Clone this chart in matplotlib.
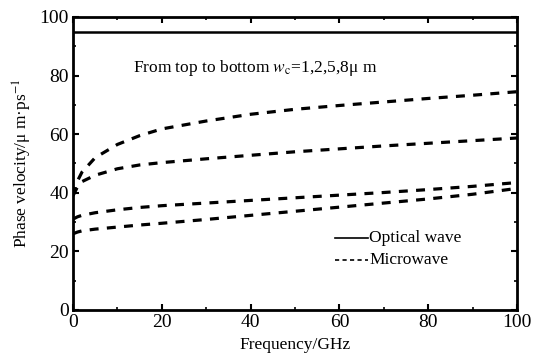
import matplotlib
matplotlib.use("Agg")
import matplotlib.pyplot as plt
import numpy as np

plt.rcParams['font.family'] = ['Liberation Serif', 'DejaVu Serif']
plt.rcParams['mathtext.fontset'] = 'stix'

freq = [0, 1, 2, 5, 10, 15, 20, 30, 40, 50, 60, 70, 80, 90, 100]
optical = [95] * len(freq)
mw_1 = [39, 44, 47, 52, 56.5, 59.5, 61.8, 64.5, 66.8, 68.5, 69.8, 71, 72.2, 73.3, 74.5]
mw_2 = [39, 42, 43.8, 46, 48.2, 49.5, 50.3, 51.6, 52.8, 54, 55, 56, 56.9, 57.8, 58.7]
mw_5 = [31, 31.8, 32.3, 33.2, 34.2, 35, 35.6, 36.5, 37.4, 38.3, 39.2, 40.1, 41.1, 42.2, 43.5]
mw_8 = [26, 26.6, 27, 27.6, 28.3, 29, 29.6, 30.9, 32.3, 33.7, 35.1, 36.5, 37.9, 39.5, 41.5]

fig = plt.figure(figsize=(5.35, 3.63), dpi=100)
ax = fig.add_axes([73/535, 1 - 310/363, (517-73)/535, (310-17)/363])

ax.plot(freq, optical, color='black', lw=1.8, solid_capstyle='butt')
for s in (mw_1, mw_2, mw_5, mw_8):
    ax.plot(freq, s, color='black', lw=2.3, linestyle=(0, (2.8, 2.6)))

ax.set_xlim(0, 100)
ax.set_ylim(0, 100)
ax.set_xticks(np.arange(0, 101, 20))
ax.set_yticks(np.arange(0, 101, 20))
ax.set_xticks(np.arange(0, 101, 10), minor=True)
ax.set_yticks(np.arange(0, 101, 10), minor=True)
ax.tick_params(which='major', direction='in', top=True, right=True, length=4, width=1.5, labelsize=14, pad=3)
ax.tick_params(which='minor', direction='in', top=True, right=True, length=2, width=1.2)
for sp in ax.spines.values():
    sp.set_linewidth(2)

ax.set_xlabel('Frequency/GHz', fontsize=12.5, labelpad=4)
ax.set_ylabel('Phase velocity/μ m·ps$^{-1}$', fontsize=12.5, labelpad=4)

ax.text(13.5, 82.5, 'From top to bottom $w_{\\rm c}$=1,2,5,8μ m', fontsize=12.5, va='center', ha='left')

ax.plot([59, 66.5], [24.5, 24.5], color='black', lw=1.2)
ax.plot([59, 66.5], [17, 17], color='black', lw=1.2, linestyle=(0, (2.5, 2)))
ax.text(66.7, 24.5, 'Optical wave', fontsize=12.5, va='center', ha='left')
ax.text(66.7, 17, 'Microwave', fontsize=12.5, va='center', ha='left')

fig.savefig('out.png', dpi=100)
